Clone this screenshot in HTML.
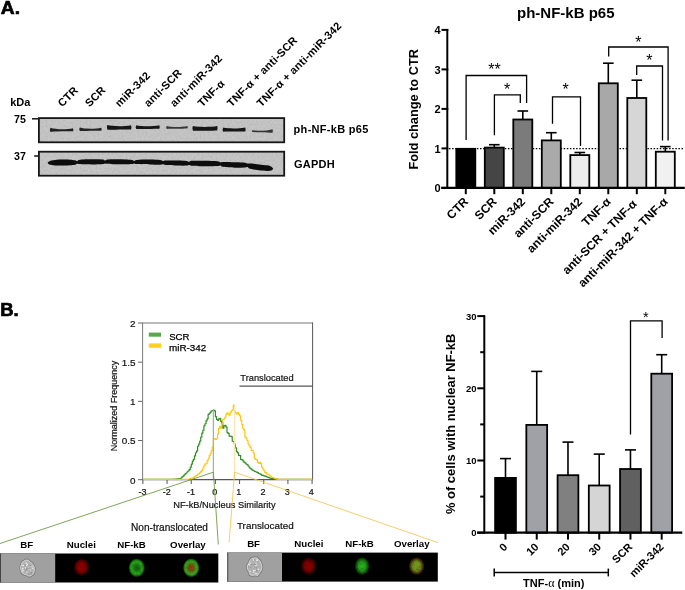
<!DOCTYPE html>
<html><head><meta charset="utf-8"><style>
html,body{margin:0;padding:0;background:#fff;}
svg{display:block;font-family:"Liberation Sans", sans-serif;will-change:transform;}
</style></head><body>
<svg width="685" height="590" viewBox="0 0 685 590">
<defs>
<filter id="bl" x="-20%" y="-50%" width="140%" height="200%"><feGaussianBlur stdDeviation="0.55"/></filter>
<filter id="cellf" x="-30%" y="-30%" width="160%" height="160%"><feGaussianBlur stdDeviation="0.45"/></filter>
<filter id="fl" x="-30%" y="-30%" width="160%" height="160%"><feGaussianBlur stdDeviation="0.6"/></filter>
<filter id="grain" x="0" y="0" width="100%" height="100%"><feTurbulence type="fractalNoise" baseFrequency="0.5" numOctaves="1" seed="4" result="n"/><feColorMatrix in="n" type="matrix" values="0 0 0 0 0  0 0 0 0 0  0 0 0 0 0  0.14 0 0 0 -0.045"/></filter>

<radialGradient id="gred" cx="0.47" cy="0.45"><stop offset="0" stop-color="#960000"/><stop offset="0.45" stop-color="#850000"/><stop offset="0.75" stop-color="#4a0000"/><stop offset="1" stop-color="#000"/></radialGradient>
<radialGradient id="gred2"><stop offset="0" stop-color="#8c0000"/><stop offset="0.5" stop-color="#7a0000"/><stop offset="0.78" stop-color="#3a0000"/><stop offset="1" stop-color="#000"/></radialGradient>
<radialGradient id="gring"><stop offset="0" stop-color="#125a0a"/><stop offset="0.35" stop-color="#187a10"/><stop offset="0.62" stop-color="#2ca81c"/><stop offset="0.8" stop-color="#1a7a0e"/><stop offset="1" stop-color="#000"/></radialGradient>
<radialGradient id="govl"><stop offset="0" stop-color="#8a400c"/><stop offset="0.3" stop-color="#7a4a0e"/><stop offset="0.55" stop-color="#4a8a18"/><stop offset="0.72" stop-color="#34a81e"/><stop offset="0.86" stop-color="#1a6a0e"/><stop offset="1" stop-color="#000"/></radialGradient>
<radialGradient id="ggreen"><stop offset="0" stop-color="#2cb41c"/><stop offset="0.5" stop-color="#22961a"/><stop offset="0.8" stop-color="#0e4a08"/><stop offset="1" stop-color="#000"/></radialGradient>
<radialGradient id="govl2"><stop offset="0" stop-color="#7aa020"/><stop offset="0.5" stop-color="#6a8a1a"/><stop offset="0.78" stop-color="#4a300a"/><stop offset="1" stop-color="#000"/></radialGradient>
</defs>
<text x="0.80" y="14.10" font-size="19.2" font-weight="bold" text-anchor="start" fill="#000" stroke="#000" stroke-width="0.7">A.</text>
<text x="0.20" y="315.90" font-size="18.4" font-weight="bold" text-anchor="start" fill="#000" stroke="#000" stroke-width="0.7">B.</text>
<text x="10.20" y="106.00" font-size="11" font-weight="bold" text-anchor="start" fill="#000">kDa</text>
<text x="14.00" y="122.80" font-size="10.6" font-weight="bold" text-anchor="start" fill="#000">75</text>
<text x="14.00" y="160.20" font-size="10.6" font-weight="bold" text-anchor="start" fill="#000">37</text>
<line x1="32.00" y1="118.80" x2="38.50" y2="118.80" stroke="#111" stroke-width="1.5"/>
<line x1="34.20" y1="156.00" x2="38.50" y2="156.00" stroke="#111" stroke-width="1.5"/>
<rect x="38.90" y="118.10" width="245.30" height="24.20" fill="#c7c7c7" stroke="#161616" stroke-width="1.8"/>
<rect x="38.90" y="151.70" width="245.30" height="24.00" fill="#c7c7c7" stroke="#161616" stroke-width="1.8"/>
<rect x="39.80" y="119.00" width="243.50" height="22.40" fill="#000" stroke="none" stroke-width="0" filter="url(#grain)"/>
<rect x="39.80" y="152.60" width="243.50" height="22.20" fill="#000" stroke="none" stroke-width="0" filter="url(#grain)"/>
<g filter="url(#bl)">
<path d="M50.5,127.78 C55.5,129.70 67.0,129.70 73.0,128.14 Q73.9,130.00 73.0,131.26 C67.0,131.20 55.5,131.20 50.5,131.92 Q49.2,130.00 50.5,127.78 Z" fill="#121212" opacity="0.9"/>
<path d="M79.8,127.62 C84.8,129.18 95.3,129.18 101.3,127.75 Q102.2,129.50 101.3,130.66 C95.3,130.72 84.8,130.72 79.8,131.07 Q78.5,129.50 79.8,127.62 Z" fill="#121212" opacity="0.88"/>
<path d="M107.4,125.09 C112.4,126.56 125.0,126.56 131.0,125.16 Q131.9,127.60 131.0,129.44 C125.0,129.54 112.4,129.54 107.4,129.81 Q106.1,127.60 107.4,125.09 Z" fill="#121212" opacity="1"/>
<path d="M136.3,125.26 C141.3,126.56 153.3,126.56 159.3,125.23 Q160.2,127.30 159.3,128.77 C153.3,128.94 141.3,128.94 136.3,129.04 Q135.0,127.30 136.3,125.26 Z" fill="#121212" opacity="1"/>
<path d="M166.8,126.00 C171.8,127.25 181.4,127.25 187.4,126.00 Q188.3,127.60 187.4,128.60 C181.4,128.85 171.8,128.85 166.8,128.90 Q165.5,127.60 166.8,126.00 Z" fill="#121212" opacity="0.78"/>
<path d="M192.9,126.10 C197.9,127.30 211.2,127.30 217.2,126.10 Q218.1,128.60 217.2,130.50 C211.2,130.80 197.9,130.80 192.9,130.79 Q191.6,128.60 192.9,126.10 Z" fill="#121212" opacity="1"/>
<path d="M223.3,127.62 C228.3,128.89 239.2,128.89 245.2,127.44 Q246.1,129.80 245.2,131.56 C239.2,131.61 228.3,131.61 223.3,131.68 Q222.0,129.80 223.3,127.62 Z" fill="#121212" opacity="1"/>
<path d="M252.5,130.30 C257.5,131.00 266.4,131.00 272.4,129.20 Q273.3,131.30 272.4,132.80 C266.4,132.50 257.5,132.50 252.5,132.00 Q251.2,131.30 252.5,130.30 Z" fill="#121212" opacity="0.8"/>
<path d="M47.50,162.80 C47.83,162.53 48.25,161.67 49.50,161.20 C50.75,160.73 52.75,160.27 55.00,160.00 C57.25,159.73 60.50,159.65 63.00,159.60 C65.50,159.55 68.00,159.58 70.00,159.70 C72.00,159.82 73.83,160.05 75.00,160.30 C76.17,160.55 76.33,161.25 77.00,161.20 C77.67,161.15 77.50,160.33 79.00,160.00 C80.50,159.67 83.33,159.33 86.00,159.20 C88.67,159.07 92.17,159.15 95.00,159.20 C97.83,159.25 101.33,159.27 103.00,159.50 C104.67,159.73 104.25,160.60 105.00,160.60 C105.75,160.60 105.67,159.73 107.50,159.50 C109.33,159.27 113.08,159.22 116.00,159.20 C118.92,159.18 122.33,159.28 125.00,159.40 C127.67,159.52 130.45,159.65 132.00,159.90 C133.55,160.15 133.47,160.90 134.30,160.90 C135.13,160.90 134.38,160.12 137.00,159.90 C139.62,159.68 146.17,159.57 150.00,159.60 C153.83,159.63 157.83,159.85 160.00,160.10 C162.17,160.35 162.00,161.02 163.00,161.10 C164.00,161.18 163.50,160.68 166.00,160.60 C168.50,160.52 174.58,160.53 178.00,160.60 C181.42,160.67 184.67,160.78 186.50,161.00 C188.33,161.22 188.08,161.93 189.00,161.90 C189.92,161.87 189.33,161.00 192.00,160.80 C194.67,160.60 200.75,160.63 205.00,160.70 C209.25,160.77 214.92,160.92 217.50,161.20 C220.08,161.48 219.58,162.28 220.50,162.40 C221.42,162.52 220.58,161.93 223.00,161.90 C225.42,161.87 231.33,162.07 235.00,162.20 C238.67,162.33 242.92,162.47 245.00,162.70 C247.08,162.93 246.67,163.45 247.50,163.60 C248.33,163.75 248.08,163.47 250.00,163.60 C251.92,163.73 256.17,164.12 259.00,164.40 C261.83,164.68 265.00,164.97 267.00,165.30 C269.00,165.63 270.00,165.92 271.00,166.40 C272.00,166.88 272.67,167.90 273.00,168.20 L273.00,169.20 C272.67,169.40 272.00,170.12 271.00,170.40 C270.00,170.68 269.00,170.92 267.00,170.90 C265.00,170.88 261.83,170.65 259.00,170.30 C256.17,169.95 251.92,169.33 250.00,168.80 C248.08,168.27 248.33,167.32 247.50,167.10 C246.67,166.88 247.08,167.40 245.00,167.50 C242.92,167.60 238.67,167.82 235.00,167.70 C231.33,167.58 225.42,167.15 223.00,166.80 C220.58,166.45 221.42,165.72 220.50,165.60 C219.58,165.48 220.08,165.98 217.50,166.10 C214.92,166.22 209.25,166.35 205.00,166.30 C200.75,166.25 194.67,166.02 192.00,165.80 C189.33,165.58 189.92,165.03 189.00,165.00 C188.08,164.97 188.33,165.50 186.50,165.60 C184.67,165.70 181.42,165.68 178.00,165.60 C174.58,165.52 168.50,165.32 166.00,165.10 C163.50,164.88 164.00,164.37 163.00,164.30 C162.00,164.23 162.17,164.67 160.00,164.70 C157.83,164.73 153.83,164.60 150.00,164.50 C146.17,164.40 139.62,164.28 137.00,164.10 C134.38,163.92 135.13,163.42 134.30,163.40 C133.47,163.38 133.55,163.85 132.00,164.00 C130.45,164.15 127.67,164.25 125.00,164.30 C122.33,164.35 118.92,164.38 116.00,164.30 C113.08,164.22 109.33,163.95 107.50,163.80 C105.67,163.65 105.75,163.37 105.00,163.40 C104.25,163.43 104.67,163.83 103.00,164.00 C101.33,164.17 97.83,164.35 95.00,164.40 C92.17,164.45 88.67,164.37 86.00,164.30 C83.33,164.23 80.50,164.08 79.00,164.00 C77.50,163.92 77.67,163.68 77.00,163.80 C76.33,163.92 76.17,164.45 75.00,164.70 C73.83,164.95 72.00,165.17 70.00,165.30 C68.00,165.43 65.50,165.48 63.00,165.50 C60.50,165.52 57.25,165.55 55.00,165.40 C52.75,165.25 50.75,165.03 49.50,164.60 C48.25,164.17 47.83,163.10 47.50,162.80 Z" fill="#0a0a0a"/>
</g>
<text x="62.30" y="107.50" font-size="11.0" font-weight="bold" text-anchor="start" fill="#000" transform="rotate(-45 62.30 107.50)" letter-spacing="0.2">CTR</text>
<text x="89.40" y="107.50" font-size="11.0" font-weight="bold" text-anchor="start" fill="#000" transform="rotate(-45 89.40 107.50)" letter-spacing="0.2">SCR</text>
<text x="119.60" y="107.50" font-size="11.0" font-weight="bold" text-anchor="start" fill="#000" transform="rotate(-45 119.60 107.50)" letter-spacing="0.2">miR-342</text>
<text x="148.60" y="107.50" font-size="11.0" font-weight="bold" text-anchor="start" fill="#000" transform="rotate(-45 148.60 107.50)" letter-spacing="0.2">anti-SCR</text>
<text x="174.60" y="107.50" font-size="11.0" font-weight="bold" text-anchor="start" fill="#000" transform="rotate(-45 174.60 107.50)" letter-spacing="0.2">anti-miR-342</text>
<text x="202.20" y="107.50" font-size="11.0" font-weight="bold" text-anchor="start" fill="#000" transform="rotate(-45 202.20 107.50)" letter-spacing="0.2">TNF-α</text>
<text x="231.60" y="107.50" font-size="11.0" font-weight="bold" text-anchor="start" fill="#000" transform="rotate(-45 231.60 107.50)" letter-spacing="0.2">TNF-α + anti-SCR</text>
<text x="261.30" y="107.50" font-size="11.0" font-weight="bold" text-anchor="start" fill="#000" transform="rotate(-45 261.30 107.50)" letter-spacing="0.2">TNF-α + anti-miR-342</text>
<text x="293.60" y="132.70" font-size="11" font-weight="bold" text-anchor="start" fill="#000" letter-spacing="0.3">ph-NF-kB p65</text>
<text x="294.00" y="168.30" font-size="11" font-weight="bold" text-anchor="start" fill="#000" letter-spacing="0.25">GAPDH</text>
<text x="565.80" y="18.30" font-size="15" font-weight="bold" text-anchor="middle" fill="#000">ph-NF-kB p65</text>
<text x="417.60" y="109.30" font-size="12.75" font-weight="bold" text-anchor="middle" fill="#000" transform="rotate(-90 417.60 109.30)">Fold change to CTR</text>
<line x1="441.50" y1="187.90" x2="448.30" y2="187.90" stroke="#000" stroke-width="2"/>
<text x="440.60" y="192.00" font-size="11" font-weight="bold" text-anchor="end" fill="#000">0</text>
<line x1="441.50" y1="148.40" x2="448.30" y2="148.40" stroke="#000" stroke-width="2"/>
<text x="440.60" y="152.50" font-size="11" font-weight="bold" text-anchor="end" fill="#000">1</text>
<line x1="441.50" y1="108.90" x2="448.30" y2="108.90" stroke="#000" stroke-width="2"/>
<text x="440.60" y="113.00" font-size="11" font-weight="bold" text-anchor="end" fill="#000">2</text>
<line x1="441.50" y1="69.40" x2="448.30" y2="69.40" stroke="#000" stroke-width="2"/>
<text x="440.60" y="73.50" font-size="11" font-weight="bold" text-anchor="end" fill="#000">3</text>
<line x1="441.50" y1="29.90" x2="448.30" y2="29.90" stroke="#000" stroke-width="2"/>
<text x="440.60" y="34.00" font-size="11" font-weight="bold" text-anchor="end" fill="#000">4</text>
<line x1="447.30" y1="29.00" x2="447.30" y2="188.90" stroke="#000" stroke-width="2"/>
<line x1="449.00" y1="148.60" x2="684.50" y2="148.60" stroke="#000" stroke-width="1.3" stroke-dasharray="1.5 1.6"/>
<rect x="456.30" y="148.80" width="19.00" height="39.10" fill="#000000" stroke="#000" stroke-width="1.8"/>
<line x1="494.30" y1="144.70" x2="494.30" y2="147.70" stroke="#000" stroke-width="1.6"/>
<line x1="489.00" y1="144.70" x2="499.60" y2="144.70" stroke="#000" stroke-width="1.6"/>
<rect x="484.80" y="147.60" width="19.00" height="40.30" fill="#454545" stroke="#000" stroke-width="1.8"/>
<line x1="522.80" y1="111.00" x2="522.80" y2="119.60" stroke="#000" stroke-width="1.6"/>
<line x1="517.50" y1="111.00" x2="528.10" y2="111.00" stroke="#000" stroke-width="1.6"/>
<rect x="513.30" y="119.50" width="19.00" height="68.40" fill="#7b7b7b" stroke="#000" stroke-width="1.8"/>
<line x1="551.30" y1="132.70" x2="551.30" y2="140.50" stroke="#000" stroke-width="1.6"/>
<line x1="546.00" y1="132.70" x2="556.60" y2="132.70" stroke="#000" stroke-width="1.6"/>
<rect x="541.80" y="140.40" width="19.00" height="47.50" fill="#aaaaaa" stroke="#000" stroke-width="1.8"/>
<line x1="579.80" y1="152.50" x2="579.80" y2="155.20" stroke="#000" stroke-width="1.6"/>
<line x1="574.50" y1="152.50" x2="585.10" y2="152.50" stroke="#000" stroke-width="1.6"/>
<rect x="570.30" y="155.10" width="19.00" height="32.80" fill="#ececec" stroke="#000" stroke-width="1.8"/>
<line x1="608.30" y1="63.20" x2="608.30" y2="83.40" stroke="#000" stroke-width="1.6"/>
<line x1="603.00" y1="63.20" x2="613.60" y2="63.20" stroke="#000" stroke-width="1.6"/>
<rect x="598.80" y="83.30" width="19.00" height="104.60" fill="#a8a8a8" stroke="#000" stroke-width="1.8"/>
<line x1="636.80" y1="80.20" x2="636.80" y2="98.10" stroke="#000" stroke-width="1.6"/>
<line x1="631.50" y1="80.20" x2="642.10" y2="80.20" stroke="#000" stroke-width="1.6"/>
<rect x="627.30" y="98.00" width="19.00" height="89.90" fill="#d6d6d6" stroke="#000" stroke-width="1.8"/>
<line x1="665.30" y1="146.60" x2="665.30" y2="151.80" stroke="#000" stroke-width="1.6"/>
<line x1="660.00" y1="146.60" x2="670.60" y2="146.60" stroke="#000" stroke-width="1.6"/>
<rect x="655.80" y="151.70" width="19.00" height="36.20" fill="#f1f1f1" stroke="#000" stroke-width="1.8"/>
<line x1="441.20" y1="187.90" x2="684.80" y2="187.90" stroke="#000" stroke-width="2.2"/>
<line x1="465.80" y1="187.90" x2="465.80" y2="194.20" stroke="#000" stroke-width="2"/>
<line x1="494.30" y1="187.90" x2="494.30" y2="194.20" stroke="#000" stroke-width="2"/>
<line x1="522.80" y1="187.90" x2="522.80" y2="194.20" stroke="#000" stroke-width="2"/>
<line x1="551.30" y1="187.90" x2="551.30" y2="194.20" stroke="#000" stroke-width="2"/>
<line x1="579.80" y1="187.90" x2="579.80" y2="194.20" stroke="#000" stroke-width="2"/>
<line x1="608.30" y1="187.90" x2="608.30" y2="194.20" stroke="#000" stroke-width="2"/>
<line x1="636.80" y1="187.90" x2="636.80" y2="194.20" stroke="#000" stroke-width="2"/>
<line x1="665.30" y1="187.90" x2="665.30" y2="194.20" stroke="#000" stroke-width="2"/>
<text x="469.00" y="202.40" font-size="12.05" font-weight="bold" text-anchor="end" fill="#000" transform="rotate(-45 469.00 202.40)">CTR</text>
<text x="497.50" y="202.40" font-size="12.05" font-weight="bold" text-anchor="end" fill="#000" transform="rotate(-45 497.50 202.40)">SCR</text>
<text x="526.00" y="202.40" font-size="12.05" font-weight="bold" text-anchor="end" fill="#000" transform="rotate(-45 526.00 202.40)">miR-342</text>
<text x="554.50" y="202.40" font-size="12.05" font-weight="bold" text-anchor="end" fill="#000" transform="rotate(-45 554.50 202.40)">anti-SCR</text>
<text x="583.00" y="202.40" font-size="12.05" font-weight="bold" text-anchor="end" fill="#000" transform="rotate(-45 583.00 202.40)">anti-miR-342</text>
<text x="611.50" y="202.40" font-size="12.05" font-weight="bold" text-anchor="end" fill="#000" transform="rotate(-45 611.50 202.40)">TNF-α</text>
<text x="637.50" y="204.80" font-size="12.05" font-weight="bold" text-anchor="end" fill="#000" transform="rotate(-45 637.50 204.80)">anti-SCR + TNF-α</text>
<text x="668.50" y="202.40" font-size="12.05" font-weight="bold" text-anchor="end" fill="#000" transform="rotate(-45 668.50 202.40)">anti-miR-342 + TNF-α</text>
<polyline points="466.10,140.00 466.10,75.50 526.60,75.50 526.60,103.00" fill="none" stroke="#000" stroke-width="1.3"/>
<polyline points="494.40,135.30 494.40,94.80 520.30,94.80 520.30,103.00" fill="none" stroke="#000" stroke-width="1.3"/>
<polyline points="552.50,123.70 552.50,96.80 580.50,96.80 580.50,146.10" fill="none" stroke="#000" stroke-width="1.3"/>
<polyline points="608.70,56.40 608.70,47.00 668.10,47.00 668.10,140.60" fill="none" stroke="#000" stroke-width="1.3"/>
<polyline points="636.70,75.10 636.70,66.00 662.50,66.00 662.50,140.60" fill="none" stroke="#000" stroke-width="1.3"/>
<text x="494.60" y="74.60" font-size="16" text-anchor="middle" fill="#000">**</text>
<text x="507.20" y="95.00" font-size="16" text-anchor="middle" fill="#000">*</text>
<text x="565.60" y="95.00" font-size="16" text-anchor="middle" fill="#000">*</text>
<text x="638.30" y="48.20" font-size="16" text-anchor="middle" fill="#000">*</text>
<text x="649.40" y="66.00" font-size="16" text-anchor="middle" fill="#000">*</text>
<line x1="142.50" y1="323.00" x2="312.90" y2="323.00" stroke="#777" stroke-width="1"/>
<line x1="312.60" y1="322.50" x2="312.60" y2="479.70" stroke="#555" stroke-width="1.0"/>
<line x1="142.60" y1="322.50" x2="142.60" y2="479.70" stroke="#7a7a7a" stroke-width="1.0"/>
<line x1="138.00" y1="479.70" x2="142.50" y2="479.70" stroke="#666" stroke-width="1"/>
<text x="135.60" y="483.50" font-size="9.9" text-anchor="end" fill="#111" stroke="#111" stroke-width="0.2">0</text>
<line x1="138.00" y1="440.52" x2="142.50" y2="440.52" stroke="#666" stroke-width="1"/>
<text x="135.60" y="444.32" font-size="9.9" text-anchor="end" fill="#111" stroke="#111" stroke-width="0.2">0.5</text>
<line x1="138.00" y1="401.35" x2="142.50" y2="401.35" stroke="#666" stroke-width="1"/>
<text x="135.60" y="405.15" font-size="9.9" text-anchor="end" fill="#111" stroke="#111" stroke-width="0.2">1</text>
<line x1="138.00" y1="362.18" x2="142.50" y2="362.18" stroke="#666" stroke-width="1"/>
<text x="135.60" y="365.98" font-size="9.9" text-anchor="end" fill="#111" stroke="#111" stroke-width="0.2">1.5</text>
<line x1="138.00" y1="323.00" x2="142.50" y2="323.00" stroke="#666" stroke-width="1"/>
<text x="135.60" y="326.80" font-size="9.9" text-anchor="end" fill="#111" stroke="#111" stroke-width="0.2">2</text>
<line x1="142.89" y1="479.70" x2="142.89" y2="484.00" stroke="#555" stroke-width="1"/>
<text x="142.59" y="495.40" font-size="9" text-anchor="middle" fill="#111" stroke="#111" stroke-width="0.2">-3</text>
<line x1="167.06" y1="479.70" x2="167.06" y2="484.00" stroke="#555" stroke-width="1"/>
<text x="166.76" y="495.40" font-size="9" text-anchor="middle" fill="#111" stroke="#111" stroke-width="0.2">-2</text>
<line x1="191.23" y1="479.70" x2="191.23" y2="484.00" stroke="#555" stroke-width="1"/>
<text x="190.93" y="495.40" font-size="9" text-anchor="middle" fill="#111" stroke="#111" stroke-width="0.2">-1</text>
<line x1="215.40" y1="479.70" x2="215.40" y2="484.00" stroke="#555" stroke-width="1"/>
<text x="214.70" y="495.40" font-size="9" text-anchor="middle" fill="#111" stroke="#111" stroke-width="0.2">0</text>
<line x1="239.57" y1="479.70" x2="239.57" y2="484.00" stroke="#555" stroke-width="1"/>
<text x="238.87" y="495.40" font-size="9" text-anchor="middle" fill="#111" stroke="#111" stroke-width="0.2">1</text>
<line x1="263.74" y1="479.70" x2="263.74" y2="484.00" stroke="#555" stroke-width="1"/>
<text x="263.04" y="495.40" font-size="9" text-anchor="middle" fill="#111" stroke="#111" stroke-width="0.2">2</text>
<line x1="287.91" y1="479.70" x2="287.91" y2="484.00" stroke="#555" stroke-width="1"/>
<text x="287.21" y="495.40" font-size="9" text-anchor="middle" fill="#111" stroke="#111" stroke-width="0.2">3</text>
<line x1="312.08" y1="479.70" x2="312.08" y2="484.00" stroke="#555" stroke-width="1"/>
<text x="311.38" y="495.40" font-size="9" text-anchor="middle" fill="#111" stroke="#111" stroke-width="0.2">4</text>
<text x="224.40" y="508.00" font-size="9.25" text-anchor="middle" fill="#111" stroke="#111" stroke-width="0.2">NF-kB/Nucleus Similarity</text>
<text x="117.40" y="406.00" font-size="9" text-anchor="middle" fill="#111" transform="rotate(-90 117.40 406.00)" stroke="#111" stroke-width="0.2">Normalized Frequency</text>
<rect x="148.80" y="332.60" width="12.20" height="4.10" fill="#58a84e" stroke="none" stroke-width="0"/>
<rect x="148.80" y="343.40" width="12.20" height="4.40" fill="#ffd11a" stroke="none" stroke-width="0"/>
<text x="169.20" y="340.40" font-size="9.6" text-anchor="start" fill="#000" stroke="#000" stroke-width="0.25">SCR</text>
<text x="169.00" y="350.70" font-size="9.9" text-anchor="start" fill="#000" stroke="#000" stroke-width="0.25">miR-342</text>
<text x="240.30" y="381.00" font-size="9.3" text-anchor="start" fill="#111" stroke="#111" stroke-width="0.2">Translocated</text>
<line x1="239.50" y1="386.20" x2="312.90" y2="386.20" stroke="#555" stroke-width="1.3"/>
<line x1="142.50" y1="479.70" x2="312.90" y2="479.70" stroke="#555" stroke-width="1.3"/>
<polyline points="143.00,479.30 143.00,479.30 144.05,479.30 144.05,479.30 145.10,479.30 145.10,479.30 146.15,479.30 146.15,479.30 147.20,479.30 147.20,479.30 148.25,479.30 148.25,479.30 149.30,479.30 149.30,479.30 150.35,479.30 150.35,479.30 151.40,479.30 151.40,479.30 152.45,479.30 152.45,479.30 153.50,479.30 153.50,479.30 154.55,479.30 154.55,479.30 155.60,479.30 155.60,479.30 156.65,479.30 156.65,479.30 157.70,479.30 157.70,479.30 158.75,479.30 158.75,479.30 159.80,479.30 159.80,479.30 160.85,479.30 160.85,479.30 161.90,479.30 161.90,479.30 162.95,479.30 162.95,479.30 164.00,479.30 164.00,479.30 165.05,479.30 165.05,479.30 166.10,479.30 166.10,479.30 167.15,479.30 167.15,479.30 168.20,479.30 168.20,479.30 169.25,479.30 169.25,479.30 170.30,479.30 170.30,479.30 171.35,479.30 171.35,479.30 172.40,479.30 172.40,479.30 173.45,479.30 173.45,479.20 174.50,479.20 174.50,479.08 175.55,479.08 175.55,478.98 176.60,478.98 176.60,478.92 177.65,478.92 177.65,478.75 178.70,478.75 178.70,478.63 179.75,478.63 179.75,478.54 180.80,478.54 180.80,478.06 181.85,478.06 181.85,476.96 182.90,476.96 182.90,476.19 183.95,476.19 183.95,474.85 185.00,474.85 185.00,473.87 186.05,473.87 186.05,473.01 187.10,473.01 187.10,471.77 188.15,471.77 188.15,470.76 189.20,470.76 189.20,469.66 190.25,469.66 190.25,467.09 191.30,467.09 191.30,464.13 192.35,464.13 192.35,461.12 193.40,461.12 193.40,459.35 194.45,459.35 194.45,455.95 195.50,455.95 195.50,452.75 196.55,452.75 196.55,450.96 197.60,450.96 197.60,446.24 198.65,446.24 198.65,444.00 199.70,444.00 199.70,441.12 200.75,441.12 200.75,437.22 201.80,437.22 201.80,433.22 202.85,433.22 202.85,430.25 203.90,430.25 203.90,425.83 204.95,425.83 204.95,423.75 206.00,423.75 206.00,420.82 207.05,420.82 207.05,418.80 208.10,418.80 208.10,414.44 209.15,414.44 209.15,413.26 210.20,413.26 210.20,412.05 211.25,412.05 211.25,410.82 212.30,410.82 212.30,410.50 213.35,410.50 213.35,410.17 214.40,410.17 214.40,410.80 215.45,410.80 215.45,416.68 216.50,416.68 216.50,419.32 217.55,419.32 217.55,420.32 218.60,420.32 218.60,418.96 219.65,418.96 219.65,418.30 220.70,418.30 220.70,421.17 221.75,421.17 221.75,423.21 222.80,423.21 222.80,428.19 223.85,428.19 223.85,425.79 224.90,425.79 224.90,425.30 225.95,425.30 225.95,427.07 227.00,427.07 227.00,432.58 228.05,432.58 228.05,433.42 229.10,433.42 229.10,436.08 230.15,436.08 230.15,436.20 231.20,436.20 231.20,436.68 232.25,436.68 232.25,441.24 233.30,441.24 233.30,441.57 234.35,441.57 234.35,444.00 235.40,444.00 235.40,447.94 236.45,447.94 236.45,451.63 237.50,451.63 237.50,452.81 238.55,452.81 238.55,455.41 239.60,455.41 239.60,455.61 240.65,455.61 240.65,459.51 241.70,459.51 241.70,459.68 242.75,459.68 242.75,460.85 243.80,460.85 243.80,462.15 244.85,462.15 244.85,462.96 245.90,462.96 245.90,464.02 246.95,464.02 246.95,464.55 248.00,464.55 248.00,465.98 249.05,465.98 249.05,467.25 250.10,467.25 250.10,468.50 251.15,468.50 251.15,469.14 252.20,469.14 252.20,470.19 253.25,470.19 253.25,470.77 254.30,470.77 254.30,471.34 255.35,471.34 255.35,471.76 256.40,471.76 256.40,472.16 257.45,472.16 257.45,472.63 258.50,472.63 258.50,473.49 259.55,473.49 259.55,473.84 260.60,473.84 260.60,474.32 261.65,474.32 261.65,475.37 262.70,475.37 262.70,475.47 263.75,475.47 263.75,475.86 264.80,475.86 264.80,476.18 265.85,476.18 265.85,476.46 266.90,476.46 266.90,477.07 267.95,477.07 267.95,477.37 269.00,477.37 269.00,477.78 270.05,477.78 270.05,478.13 271.10,478.13 271.10,478.31 272.15,478.31 272.15,478.45 273.20,478.45 273.20,478.62 274.25,478.62 274.25,478.86 275.30,478.86 275.30,478.99 276.35,478.99 276.35,479.14 277.40,479.14 277.40,479.24 278.45,479.24 278.45,479.27 279.50,479.27 279.50,479.30 280.55,479.30 280.55,479.30 281.60,479.30 281.60,479.30 282.65,479.30 282.65,479.30 283.70,479.30 283.70,479.30 284.75,479.30 284.75,479.30 285.80,479.30 285.80,479.30 286.85,479.30 286.85,479.30 287.90,479.30 287.90,479.30 288.95,479.30 288.95,479.30 290.00,479.30 290.00,479.30 291.05,479.30 291.05,479.30 292.10,479.30 292.10,479.30 293.15,479.30 293.15,479.30 294.20,479.30 294.20,479.30 295.25,479.30 295.25,479.30 296.30,479.30 296.30,479.30 297.35,479.30 297.35,479.30 298.40,479.30 298.40,479.30 299.45,479.30 299.45,479.30 300.50,479.30 300.50,479.30 301.55,479.30 301.55,479.30 302.60,479.30 302.60,479.30 303.65,479.30 303.65,479.30 304.70,479.30 304.70,479.30 305.75,479.30 305.75,479.30 306.80,479.30 306.80,479.30 307.85,479.30 307.85,479.30 308.90,479.30 308.90,479.30 309.95,479.30 309.95,479.30 311.00,479.30 311.00,479.30 312.00,479.30" fill="none" stroke="#2f8f22" stroke-width="1.2" stroke-linejoin="round"/>
<polyline points="143.00,479.30 143.00,479.30 144.05,479.30 144.05,479.30 145.10,479.30 145.10,479.30 146.15,479.30 146.15,479.30 147.20,479.30 147.20,479.30 148.25,479.30 148.25,479.30 149.30,479.30 149.30,479.30 150.35,479.30 150.35,479.30 151.40,479.30 151.40,479.30 152.45,479.30 152.45,479.30 153.50,479.30 153.50,479.30 154.55,479.30 154.55,479.30 155.60,479.30 155.60,479.30 156.65,479.30 156.65,479.30 157.70,479.30 157.70,479.30 158.75,479.30 158.75,479.30 159.80,479.30 159.80,479.30 160.85,479.30 160.85,479.30 161.90,479.30 161.90,479.30 162.95,479.30 162.95,479.30 164.00,479.30 164.00,479.30 165.05,479.30 165.05,479.30 166.10,479.30 166.10,479.30 167.15,479.30 167.15,479.30 168.20,479.30 168.20,479.30 169.25,479.30 169.25,479.30 170.30,479.30 170.30,479.30 171.35,479.30 171.35,479.30 172.40,479.30 172.40,479.30 173.45,479.30 173.45,479.30 174.50,479.30 174.50,479.30 175.55,479.30 175.55,479.30 176.60,479.30 176.60,479.30 177.65,479.30 177.65,479.30 178.70,479.30 178.70,479.30 179.75,479.30 179.75,479.30 180.80,479.30 180.80,479.30 181.85,479.30 181.85,479.30 182.90,479.30 182.90,479.30 183.95,479.30 183.95,479.30 185.00,479.30 185.00,479.30 186.05,479.30 186.05,479.30 187.10,479.30 187.10,479.30 188.15,479.30 188.15,479.13 189.20,479.13 189.20,478.88 190.25,478.88 190.25,478.67 191.30,478.67 191.30,478.18 192.35,478.18 192.35,478.01 193.40,478.01 193.40,477.33 194.45,477.33 194.45,476.48 195.50,476.48 195.50,475.95 196.55,475.95 196.55,475.09 197.60,475.09 197.60,473.99 198.65,473.99 198.65,473.86 199.70,473.86 199.70,472.55 200.75,472.55 200.75,471.39 201.80,471.39 201.80,470.36 202.85,470.36 202.85,468.02 203.90,468.02 203.90,465.76 204.95,465.76 204.95,463.75 206.00,463.75 206.00,463.80 207.05,463.80 207.05,460.54 208.10,460.54 208.10,458.60 209.15,458.60 209.15,455.71 210.20,455.71 210.20,453.39 211.25,453.39 211.25,450.83 212.30,450.83 212.30,447.16 213.35,447.16 213.35,439.05 214.40,439.05 214.40,438.60 215.45,438.60 215.45,439.35 216.50,439.35 216.50,438.75 217.55,438.75 217.55,433.98 218.60,433.98 218.60,428.40 219.65,428.40 219.65,426.47 220.70,426.47 220.70,428.19 221.75,428.19 221.75,423.96 222.80,423.96 222.80,419.41 223.85,419.41 223.85,419.08 224.90,419.08 224.90,417.07 225.95,417.07 225.95,413.90 227.00,413.90 227.00,412.90 228.05,412.90 228.05,414.12 229.10,414.12 229.10,415.03 230.15,415.03 230.15,412.43 231.20,412.43 231.20,410.97 232.25,410.97 232.25,409.73 233.30,409.73 233.30,405.06 234.35,405.06 234.35,410.94 235.40,410.94 235.40,412.91 236.45,412.91 236.45,414.00 237.50,414.00 237.50,412.57 238.55,412.57 238.55,414.43 239.60,414.43 239.60,415.93 240.65,415.93 240.65,420.44 241.70,420.44 241.70,424.57 242.75,424.57 242.75,428.66 243.80,428.66 243.80,430.18 244.85,430.18 244.85,436.88 245.90,436.88 245.90,438.18 246.95,438.18 246.95,440.50 248.00,440.50 248.00,443.84 249.05,443.84 249.05,446.01 250.10,446.01 250.10,447.15 251.15,447.15 251.15,450.39 252.20,450.39 252.20,450.28 253.25,450.28 253.25,453.09 254.30,453.09 254.30,458.47 255.35,458.47 255.35,459.38 256.40,459.38 256.40,459.54 257.45,459.54 257.45,462.19 258.50,462.19 258.50,463.32 259.55,463.32 259.55,462.45 260.60,462.45 260.60,463.69 261.65,463.69 261.65,467.26 262.70,467.26 262.70,468.99 263.75,468.99 263.75,470.65 264.80,470.65 264.80,472.64 265.85,472.64 265.85,472.60 266.90,472.60 266.90,474.11 267.95,474.11 267.95,474.24 269.00,474.24 269.00,475.17 270.05,475.17 270.05,476.22 271.10,476.22 271.10,477.05 272.15,477.05 272.15,477.51 273.20,477.51 273.20,477.87 274.25,477.87 274.25,478.27 275.30,478.27 275.30,478.69 276.35,478.69 276.35,479.13 277.40,479.13 277.40,479.23 278.45,479.23 278.45,479.28 279.50,479.28 279.50,479.30 280.55,479.30 280.55,479.30 281.60,479.30 281.60,479.30 282.65,479.30 282.65,479.30 283.70,479.30 283.70,479.30 284.75,479.30 284.75,479.30 285.80,479.30 285.80,479.30 286.85,479.30 286.85,479.30 287.90,479.30 287.90,479.30 288.95,479.30 288.95,479.30 290.00,479.30 290.00,479.30 291.05,479.30 291.05,479.30 292.10,479.30 292.10,479.30 293.15,479.30 293.15,479.30 294.20,479.30 294.20,479.30 295.25,479.30 295.25,479.30 296.30,479.30 296.30,479.30 297.35,479.30 297.35,479.30 298.40,479.30 298.40,479.30 299.45,479.30 299.45,479.30 300.50,479.30 300.50,479.30 301.55,479.30 301.55,479.30 302.60,479.30 302.60,479.30 303.65,479.30 303.65,479.30 304.70,479.30 304.70,479.30 305.75,479.30 305.75,479.30 306.80,479.30 306.80,479.30 307.85,479.30 307.85,479.30 308.90,479.30 308.90,479.30 309.95,479.30 309.95,479.30 311.00,479.30 311.00,479.30 312.05,479.30 312.05,479.30 312.40,479.30" fill="none" stroke="#fcc814" stroke-width="1.2" stroke-linejoin="round"/>
<line x1="213.40" y1="409.50" x2="213.40" y2="479.00" stroke="#9dba95" stroke-width="1.3"/>
<line x1="234.60" y1="405.50" x2="234.60" y2="479.00" stroke="#fce6b4" stroke-width="1.4"/>
<line x1="213.40" y1="472.20" x2="0.00" y2="543.50" stroke="#6f9a48" stroke-width="0.9"/>
<line x1="213.40" y1="472.20" x2="218.30" y2="544.50" stroke="#6f9a48" stroke-width="0.9"/>
<line x1="234.60" y1="472.20" x2="229.10" y2="542.50" stroke="#f5c85c" stroke-width="0.9"/>
<line x1="234.60" y1="472.20" x2="437.80" y2="542.60" stroke="#f5c85c" stroke-width="0.9"/>
<text x="169.50" y="531.10" font-size="10.1" text-anchor="middle" fill="#111" stroke="#111" stroke-width="0.2">Non-translocated</text>
<text x="265.30" y="528.80" font-size="9.9" text-anchor="middle" fill="#111" stroke="#111" stroke-width="0.2">Translocated</text>
<text x="26.80" y="548.30" font-size="9.7" font-weight="bold" text-anchor="middle" fill="#000">BF</text>
<text x="81.30" y="548.30" font-size="9.7" font-weight="bold" text-anchor="middle" fill="#000">Nuclei</text>
<text x="131.50" y="548.30" font-size="9.7" font-weight="bold" text-anchor="middle" fill="#000">NF-kB</text>
<text x="187.90" y="548.30" font-size="9.7" font-weight="bold" text-anchor="middle" fill="#000">Overlay</text>
<text x="253.60" y="547.20" font-size="9.7" font-weight="bold" text-anchor="middle" fill="#000">BF</text>
<text x="308.90" y="547.20" font-size="9.7" font-weight="bold" text-anchor="middle" fill="#000">Nuclei</text>
<text x="359.50" y="547.20" font-size="9.7" font-weight="bold" text-anchor="middle" fill="#000">NF-kB</text>
<text x="411.80" y="547.20" font-size="9.7" font-weight="bold" text-anchor="middle" fill="#000">Overlay</text>
<rect x="0.00" y="553.50" width="218.30" height="29.00" fill="#000" stroke="none" stroke-width="0"/>
<rect x="0.00" y="553.50" width="55.20" height="29.00" fill="#a0a0a0" stroke="none" stroke-width="0"/>
<line x1="0.50" y1="553.50" x2="0.50" y2="582.50" stroke="#444" stroke-width="1"/>
<rect x="227.30" y="552.60" width="210.50" height="29.00" fill="#000" stroke="none" stroke-width="0"/>
<rect x="227.30" y="552.60" width="54.70" height="29.00" fill="#a0a0a0" stroke="none" stroke-width="0"/>
<line x1="227.80" y1="552.60" x2="227.80" y2="581.60" stroke="#555" stroke-width="1"/>
<g filter="url(#cellf)"><path d="M34.34,565.37 L35.15,568.46 L34.95,571.57 L33.93,574.39 L31.77,576.05 L29.37,577.24 L26.72,575.66 L24.18,575.13 L21.64,573.51 L20.43,570.45 L19.43,567.33 L20.74,564.66 L21.39,561.92 L23.41,560.45 L25.56,559.16 L28.16,559.30 L30.35,561.27 L32.46,562.98 Z" fill="#b0b0b0" stroke="#7e7e7e" stroke-width="1.2"/>
<path d="M34.34,565.37 L35.15,568.46 L34.95,571.57 L33.93,574.39 L31.77,576.05 L29.37,577.24 L26.72,575.66 L24.18,575.13 L21.64,573.51 L20.43,570.45 L19.43,567.33 L20.74,564.66 L21.39,561.92 L23.41,560.45 L25.56,559.16 L28.16,559.30 L30.35,561.27 L32.46,562.98 Z" fill="none" stroke="#e0e0e0" stroke-width="0.9" transform="translate(2.74 56.79) scale(0.9)"/>
<ellipse cx="28.70" cy="574.33" rx="0.61" ry="0.98" fill="#909090"/>
<ellipse cx="30.75" cy="570.30" rx="0.59" ry="1.08" fill="#d8d8d8"/>
<ellipse cx="31.71" cy="566.53" rx="1.11" ry="0.67" fill="#d8d8d8"/>
<ellipse cx="29.95" cy="565.98" rx="0.94" ry="0.61" fill="#c8c8c8"/>
<ellipse cx="28.36" cy="567.25" rx="0.71" ry="0.72" fill="#909090"/>
<ellipse cx="28.11" cy="568.60" rx="0.73" ry="0.99" fill="#e8e8e8"/>
<ellipse cx="23.84" cy="566.85" rx="0.74" ry="0.69" fill="#c8c8c8"/>
<ellipse cx="27.42" cy="564.54" rx="0.63" ry="0.78" fill="#f0f0f0"/>
<ellipse cx="28.59" cy="569.22" rx="1.16" ry="0.71" fill="#e8e8e8"/>
<ellipse cx="25.68" cy="570.91" rx="0.76" ry="0.85" fill="#909090"/>
<ellipse cx="27.66" cy="567.82" rx="0.94" ry="1.07" fill="#d8d8d8"/>
<ellipse cx="28.80" cy="568.67" rx="0.74" ry="0.71" fill="#909090"/>
<ellipse cx="22.90" cy="568.62" rx="0.91" ry="0.97" fill="#e8e8e8"/>
<ellipse cx="26.85" cy="569.78" rx="1.16" ry="0.55" fill="#909090"/>
<ellipse cx="26.86" cy="572.04" rx="0.74" ry="1.05" fill="#d8d8d8"/>
<ellipse cx="25.54" cy="567.91" rx="0.71" ry="0.98" fill="#f0f0f0"/>
<ellipse cx="23.36" cy="565.42" rx="1.20" ry="0.60" fill="#f0f0f0"/>
<ellipse cx="33.29" cy="568.02" rx="1.15" ry="0.52" fill="#9c9c9c"/>
<ellipse cx="26.44" cy="565.62" rx="0.82" ry="0.75" fill="#f0f0f0"/>
<ellipse cx="32.90" cy="568.30" rx="1.06" ry="0.70" fill="#e8e8e8"/>
<ellipse cx="31.17" cy="573.77" rx="1.16" ry="0.88" fill="#9c9c9c"/>
<ellipse cx="27.28" cy="567.15" rx="0.76" ry="0.54" fill="#909090"/>
<ellipse cx="26.89" cy="568.61" rx="1.10" ry="1.09" fill="#9c9c9c"/>
<ellipse cx="25.18" cy="569.79" rx="0.72" ry="0.66" fill="#c8c8c8"/>
<ellipse cx="22.96" cy="570.81" rx="0.76" ry="1.09" fill="#e8e8e8"/>
<ellipse cx="30.34" cy="565.62" rx="1.11" ry="0.61" fill="#909090"/>
<ellipse cx="24.64" cy="569.11" rx="1.11" ry="0.72" fill="#9c9c9c"/>
<ellipse cx="26.49" cy="562.44" rx="0.91" ry="0.52" fill="#c8c8c8"/>
<ellipse cx="27.65" cy="571.84" rx="0.70" ry="0.79" fill="#c8c8c8"/>
<ellipse cx="26.18" cy="563.09" rx="1.17" ry="0.70" fill="#f0f0f0"/>
<ellipse cx="31.32" cy="572.35" rx="0.88" ry="0.65" fill="#909090"/>
<ellipse cx="25.19" cy="565.58" rx="0.95" ry="0.98" fill="#9c9c9c"/>
<ellipse cx="26.66" cy="572.20" rx="1.16" ry="0.75" fill="#c8c8c8"/>
<ellipse cx="28.04" cy="567.05" rx="0.81" ry="0.72" fill="#c8c8c8"/>
</g>
<g filter="url(#cellf)"><path d="M262.72,567.60 L261.79,570.84 L259.89,573.30 L258.09,576.33 L255.09,575.76 L252.32,576.36 L249.45,575.51 L248.40,572.08 L246.69,569.43 L246.45,565.97 L248.05,563.01 L249.27,560.00 L251.40,557.53 L254.27,557.04 L257.17,556.85 L259.29,559.18 L261.20,561.36 L262.07,564.38 Z" fill="#b0b0b0" stroke="#7e7e7e" stroke-width="1.2"/>
<path d="M262.72,567.60 L261.79,570.84 L259.89,573.30 L258.09,576.33 L255.09,575.76 L252.32,576.36 L249.45,575.51 L248.40,572.08 L246.69,569.43 L246.45,565.97 L248.05,563.01 L249.27,560.00 L251.40,557.53 L254.27,557.04 L257.17,556.85 L259.29,559.18 L261.20,561.36 L262.07,564.38 Z" fill="none" stroke="#e0e0e0" stroke-width="0.9" transform="translate(25.47 56.68) scale(0.9)"/>
<ellipse cx="248.70" cy="565.91" rx="0.54" ry="0.91" fill="#9c9c9c"/>
<ellipse cx="256.81" cy="560.10" rx="0.64" ry="0.63" fill="#f0f0f0"/>
<ellipse cx="256.93" cy="560.13" rx="1.14" ry="0.74" fill="#f0f0f0"/>
<ellipse cx="254.52" cy="567.07" rx="1.12" ry="1.03" fill="#c8c8c8"/>
<ellipse cx="256.93" cy="568.05" rx="0.60" ry="0.64" fill="#909090"/>
<ellipse cx="254.90" cy="560.01" rx="0.50" ry="0.96" fill="#9c9c9c"/>
<ellipse cx="255.85" cy="573.40" rx="0.51" ry="0.55" fill="#f0f0f0"/>
<ellipse cx="254.59" cy="566.75" rx="0.90" ry="0.82" fill="#e8e8e8"/>
<ellipse cx="254.79" cy="567.33" rx="0.95" ry="0.56" fill="#d8d8d8"/>
<ellipse cx="253.78" cy="566.04" rx="1.00" ry="0.52" fill="#9c9c9c"/>
<ellipse cx="253.60" cy="572.14" rx="1.02" ry="0.94" fill="#d8d8d8"/>
<ellipse cx="254.51" cy="566.66" rx="0.78" ry="1.04" fill="#c8c8c8"/>
<ellipse cx="256.09" cy="570.39" rx="0.76" ry="0.90" fill="#c8c8c8"/>
<ellipse cx="250.77" cy="563.06" rx="1.11" ry="0.57" fill="#e8e8e8"/>
<ellipse cx="256.65" cy="565.01" rx="0.78" ry="1.09" fill="#d8d8d8"/>
<ellipse cx="254.60" cy="566.72" rx="0.73" ry="0.76" fill="#9c9c9c"/>
<ellipse cx="255.01" cy="570.31" rx="1.07" ry="0.68" fill="#f0f0f0"/>
<ellipse cx="253.56" cy="570.75" rx="0.52" ry="0.97" fill="#e8e8e8"/>
<ellipse cx="256.22" cy="563.21" rx="1.04" ry="0.84" fill="#c8c8c8"/>
<ellipse cx="258.36" cy="569.27" rx="1.17" ry="0.74" fill="#e8e8e8"/>
<ellipse cx="250.29" cy="571.31" rx="0.60" ry="0.67" fill="#f0f0f0"/>
<ellipse cx="253.34" cy="560.08" rx="0.54" ry="1.09" fill="#e8e8e8"/>
<ellipse cx="256.91" cy="573.75" rx="0.92" ry="0.51" fill="#e8e8e8"/>
<ellipse cx="255.90" cy="567.55" rx="0.71" ry="0.51" fill="#909090"/>
<ellipse cx="255.48" cy="564.69" rx="0.89" ry="0.58" fill="#909090"/>
<ellipse cx="257.58" cy="569.40" rx="0.58" ry="0.75" fill="#c8c8c8"/>
<ellipse cx="256.64" cy="570.52" rx="0.91" ry="0.98" fill="#909090"/>
<ellipse cx="253.96" cy="564.84" rx="1.12" ry="0.80" fill="#9c9c9c"/>
<ellipse cx="254.93" cy="567.05" rx="0.59" ry="0.98" fill="#9c9c9c"/>
<ellipse cx="255.27" cy="565.68" rx="1.10" ry="0.62" fill="#d8d8d8"/>
<ellipse cx="250.81" cy="567.19" rx="0.77" ry="0.60" fill="#9c9c9c"/>
<ellipse cx="248.48" cy="567.03" rx="0.55" ry="0.89" fill="#9c9c9c"/>
<ellipse cx="251.59" cy="564.19" rx="0.88" ry="0.81" fill="#909090"/>
<ellipse cx="249.09" cy="564.55" rx="1.11" ry="0.84" fill="#e8e8e8"/>
</g>
<ellipse cx="82.0" cy="568.0" rx="8.2" ry="9.2" fill="url(#gred)" filter="url(#fl)"/>
<ellipse cx="136.7" cy="567.8" rx="8.4" ry="9.6" fill="url(#gring)" filter="url(#fl)"/>
<ellipse cx="191.2" cy="567.8" rx="8.4" ry="9.6" fill="url(#govl)" filter="url(#fl)"/>
<ellipse cx="308.6" cy="566.1" rx="8.2" ry="9.3" fill="url(#gred2)" filter="url(#fl)"/>
<ellipse cx="362.1" cy="566.1" rx="7.6" ry="9.2" fill="url(#ggreen)" filter="url(#fl)"/>
<ellipse cx="416.6" cy="566.1" rx="8.0" ry="9.2" fill="url(#govl2)" filter="url(#fl)"/>
<rect x="77.35" y="569.65" width="1" height="1" fill="#000" opacity="0.14"/>
<rect x="83.74" y="565.42" width="1" height="1" fill="#000" opacity="0.15"/>
<rect x="79.88" y="565.88" width="1" height="1" fill="#000" opacity="0.12"/>
<rect x="86.92" y="571.64" width="1" height="1" fill="#000" opacity="0.17"/>
<rect x="78.62" y="565.34" width="1" height="1" fill="#000" opacity="0.17"/>
<rect x="80.07" y="566.02" width="1" height="1" fill="#000" opacity="0.20"/>
<rect x="83.13" y="568.55" width="1" height="1" fill="#000" opacity="0.16"/>
<rect x="82.65" y="563.78" width="1" height="1" fill="#000" opacity="0.20"/>
<rect x="76.84" y="567.28" width="1" height="1" fill="#000" opacity="0.08"/>
<rect x="86.53" y="571.09" width="1" height="1" fill="#000" opacity="0.22"/>
<rect x="87.96" y="567.81" width="1" height="1" fill="#000" opacity="0.12"/>
<rect x="82.23" y="562.64" width="1" height="1" fill="#000" opacity="0.09"/>
<rect x="82.42" y="563.28" width="1" height="1" fill="#000" opacity="0.13"/>
<rect x="87.78" y="566.20" width="1" height="1" fill="#000" opacity="0.11"/>
<rect x="83.33" y="567.24" width="1" height="1" fill="#000" opacity="0.22"/>
<rect x="80.60" y="569.22" width="1" height="1" fill="#000" opacity="0.11"/>
<rect x="80.29" y="564.12" width="1" height="1" fill="#000" opacity="0.13"/>
<rect x="87.52" y="566.54" width="1" height="1" fill="#000" opacity="0.10"/>
<rect x="81.82" y="567.24" width="1" height="1" fill="#000" opacity="0.19"/>
<rect x="84.13" y="573.04" width="1" height="1" fill="#000" opacity="0.15"/>
<rect x="87.68" y="567.39" width="1" height="1" fill="#000" opacity="0.17"/>
<rect x="85.14" y="571.25" width="1" height="1" fill="#000" opacity="0.08"/>
<rect x="86.22" y="562.42" width="1" height="1" fill="#000" opacity="0.12"/>
<rect x="84.24" y="565.72" width="1" height="1" fill="#000" opacity="0.22"/>
<rect x="78.04" y="564.59" width="1" height="1" fill="#000" opacity="0.22"/>
<rect x="82.76" y="571.71" width="1" height="1" fill="#000" opacity="0.13"/>
<rect x="81.49" y="569.95" width="1" height="1" fill="#000" opacity="0.11"/>
<rect x="81.47" y="567.29" width="1" height="1" fill="#000" opacity="0.13"/>
<rect x="75.91" y="570.13" width="1" height="1" fill="#000" opacity="0.20"/>
<rect x="84.66" y="571.51" width="1" height="1" fill="#000" opacity="0.10"/>
<rect x="86.93" y="564.31" width="1" height="1" fill="#000" opacity="0.18"/>
<rect x="84.80" y="572.99" width="1" height="1" fill="#000" opacity="0.11"/>
<rect x="87.81" y="565.83" width="1" height="1" fill="#000" opacity="0.09"/>
<rect x="84.05" y="568.73" width="1" height="1" fill="#000" opacity="0.21"/>
<rect x="82.40" y="574.28" width="1" height="1" fill="#000" opacity="0.14"/>
<rect x="85.76" y="565.04" width="1" height="1" fill="#000" opacity="0.10"/>
<rect x="81.68" y="566.07" width="1" height="1" fill="#000" opacity="0.15"/>
<rect x="79.09" y="563.16" width="1" height="1" fill="#000" opacity="0.12"/>
<rect x="84.55" y="566.32" width="1" height="1" fill="#000" opacity="0.09"/>
<rect x="79.25" y="569.98" width="1" height="1" fill="#000" opacity="0.10"/>
<rect x="133.10" y="572.24" width="1" height="1" fill="#000" opacity="0.09"/>
<rect x="139.73" y="571.90" width="1" height="1" fill="#000" opacity="0.17"/>
<rect x="134.77" y="562.10" width="1" height="1" fill="#000" opacity="0.16"/>
<rect x="140.98" y="565.25" width="1" height="1" fill="#000" opacity="0.18"/>
<rect x="137.69" y="567.53" width="1" height="1" fill="#000" opacity="0.09"/>
<rect x="140.26" y="569.63" width="1" height="1" fill="#000" opacity="0.22"/>
<rect x="141.31" y="570.49" width="1" height="1" fill="#000" opacity="0.09"/>
<rect x="142.23" y="565.12" width="1" height="1" fill="#000" opacity="0.19"/>
<rect x="140.27" y="565.38" width="1" height="1" fill="#000" opacity="0.15"/>
<rect x="142.42" y="571.27" width="1" height="1" fill="#000" opacity="0.20"/>
<rect x="131.74" y="565.01" width="1" height="1" fill="#000" opacity="0.13"/>
<rect x="138.58" y="567.97" width="1" height="1" fill="#000" opacity="0.17"/>
<rect x="143.26" y="567.49" width="1" height="1" fill="#000" opacity="0.13"/>
<rect x="142.04" y="565.12" width="1" height="1" fill="#000" opacity="0.14"/>
<rect x="137.77" y="565.83" width="1" height="1" fill="#000" opacity="0.08"/>
<rect x="132.80" y="564.50" width="1" height="1" fill="#000" opacity="0.21"/>
<rect x="141.39" y="572.40" width="1" height="1" fill="#000" opacity="0.21"/>
<rect x="136.67" y="568.65" width="1" height="1" fill="#000" opacity="0.10"/>
<rect x="132.85" y="564.08" width="1" height="1" fill="#000" opacity="0.17"/>
<rect x="130.52" y="570.50" width="1" height="1" fill="#000" opacity="0.14"/>
<rect x="136.68" y="574.17" width="1" height="1" fill="#000" opacity="0.20"/>
<rect x="132.70" y="571.86" width="1" height="1" fill="#000" opacity="0.11"/>
<rect x="139.45" y="571.35" width="1" height="1" fill="#000" opacity="0.18"/>
<rect x="140.20" y="566.50" width="1" height="1" fill="#000" opacity="0.10"/>
<rect x="130.07" y="569.18" width="1" height="1" fill="#000" opacity="0.13"/>
<rect x="131.01" y="566.98" width="1" height="1" fill="#000" opacity="0.20"/>
<rect x="141.38" y="567.19" width="1" height="1" fill="#000" opacity="0.20"/>
<rect x="135.74" y="573.94" width="1" height="1" fill="#000" opacity="0.18"/>
<rect x="133.19" y="565.89" width="1" height="1" fill="#000" opacity="0.08"/>
<rect x="139.80" y="571.87" width="1" height="1" fill="#000" opacity="0.19"/>
<rect x="136.06" y="574.82" width="1" height="1" fill="#000" opacity="0.22"/>
<rect x="138.43" y="569.55" width="1" height="1" fill="#000" opacity="0.17"/>
<rect x="139.12" y="560.47" width="1" height="1" fill="#000" opacity="0.11"/>
<rect x="138.28" y="564.18" width="1" height="1" fill="#000" opacity="0.08"/>
<rect x="130.87" y="568.97" width="1" height="1" fill="#000" opacity="0.11"/>
<rect x="137.62" y="562.02" width="1" height="1" fill="#000" opacity="0.15"/>
<rect x="139.49" y="567.74" width="1" height="1" fill="#000" opacity="0.21"/>
<rect x="142.47" y="571.82" width="1" height="1" fill="#000" opacity="0.13"/>
<rect x="133.74" y="568.89" width="1" height="1" fill="#000" opacity="0.13"/>
<rect x="130.74" y="564.66" width="1" height="1" fill="#000" opacity="0.14"/>
<rect x="189.36" y="564.85" width="1" height="1" fill="#000" opacity="0.20"/>
<rect x="193.21" y="560.46" width="1" height="1" fill="#000" opacity="0.11"/>
<rect x="196.81" y="563.14" width="1" height="1" fill="#000" opacity="0.16"/>
<rect x="192.20" y="563.42" width="1" height="1" fill="#000" opacity="0.20"/>
<rect x="190.03" y="569.67" width="1" height="1" fill="#000" opacity="0.13"/>
<rect x="187.97" y="569.79" width="1" height="1" fill="#000" opacity="0.11"/>
<rect x="194.29" y="563.93" width="1" height="1" fill="#000" opacity="0.10"/>
<rect x="188.04" y="573.91" width="1" height="1" fill="#000" opacity="0.15"/>
<rect x="197.84" y="567.79" width="1" height="1" fill="#000" opacity="0.20"/>
<rect x="188.67" y="560.58" width="1" height="1" fill="#000" opacity="0.16"/>
<rect x="188.92" y="561.34" width="1" height="1" fill="#000" opacity="0.15"/>
<rect x="189.71" y="574.41" width="1" height="1" fill="#000" opacity="0.10"/>
<rect x="184.56" y="567.12" width="1" height="1" fill="#000" opacity="0.12"/>
<rect x="186.48" y="572.79" width="1" height="1" fill="#000" opacity="0.11"/>
<rect x="195.28" y="561.45" width="1" height="1" fill="#000" opacity="0.12"/>
<rect x="186.71" y="567.88" width="1" height="1" fill="#000" opacity="0.15"/>
<rect x="190.28" y="566.98" width="1" height="1" fill="#000" opacity="0.15"/>
<rect x="186.12" y="571.99" width="1" height="1" fill="#000" opacity="0.10"/>
<rect x="193.58" y="569.61" width="1" height="1" fill="#000" opacity="0.14"/>
<rect x="196.70" y="564.38" width="1" height="1" fill="#000" opacity="0.12"/>
<rect x="188.74" y="568.28" width="1" height="1" fill="#000" opacity="0.21"/>
<rect x="197.37" y="564.78" width="1" height="1" fill="#000" opacity="0.12"/>
<rect x="193.18" y="573.67" width="1" height="1" fill="#000" opacity="0.10"/>
<rect x="191.39" y="566.61" width="1" height="1" fill="#000" opacity="0.10"/>
<rect x="194.92" y="568.12" width="1" height="1" fill="#000" opacity="0.13"/>
<rect x="189.55" y="566.03" width="1" height="1" fill="#000" opacity="0.16"/>
<rect x="194.50" y="562.73" width="1" height="1" fill="#000" opacity="0.11"/>
<rect x="186.66" y="566.80" width="1" height="1" fill="#000" opacity="0.17"/>
<rect x="193.70" y="562.21" width="1" height="1" fill="#000" opacity="0.11"/>
<rect x="187.40" y="563.10" width="1" height="1" fill="#000" opacity="0.11"/>
<rect x="186.03" y="566.17" width="1" height="1" fill="#000" opacity="0.11"/>
<rect x="190.83" y="560.61" width="1" height="1" fill="#000" opacity="0.12"/>
<rect x="188.53" y="574.85" width="1" height="1" fill="#000" opacity="0.19"/>
<rect x="191.94" y="570.14" width="1" height="1" fill="#000" opacity="0.10"/>
<rect x="194.91" y="570.42" width="1" height="1" fill="#000" opacity="0.20"/>
<rect x="185.72" y="571.16" width="1" height="1" fill="#000" opacity="0.11"/>
<rect x="186.86" y="562.65" width="1" height="1" fill="#000" opacity="0.11"/>
<rect x="188.45" y="560.84" width="1" height="1" fill="#000" opacity="0.10"/>
<rect x="185.11" y="567.55" width="1" height="1" fill="#000" opacity="0.22"/>
<rect x="194.32" y="561.58" width="1" height="1" fill="#000" opacity="0.09"/>
<rect x="313.29" y="567.40" width="1" height="1" fill="#000" opacity="0.21"/>
<rect x="305.79" y="566.48" width="1" height="1" fill="#000" opacity="0.11"/>
<rect x="312.07" y="559.80" width="1" height="1" fill="#000" opacity="0.09"/>
<rect x="314.47" y="568.88" width="1" height="1" fill="#000" opacity="0.09"/>
<rect x="311.94" y="568.78" width="1" height="1" fill="#000" opacity="0.15"/>
<rect x="304.04" y="568.57" width="1" height="1" fill="#000" opacity="0.17"/>
<rect x="311.41" y="566.95" width="1" height="1" fill="#000" opacity="0.14"/>
<rect x="308.32" y="561.34" width="1" height="1" fill="#000" opacity="0.16"/>
<rect x="313.39" y="569.85" width="1" height="1" fill="#000" opacity="0.21"/>
<rect x="310.34" y="560.13" width="1" height="1" fill="#000" opacity="0.21"/>
<rect x="306.03" y="564.71" width="1" height="1" fill="#000" opacity="0.22"/>
<rect x="309.72" y="562.51" width="1" height="1" fill="#000" opacity="0.18"/>
<rect x="309.63" y="559.44" width="1" height="1" fill="#000" opacity="0.10"/>
<rect x="306.30" y="570.93" width="1" height="1" fill="#000" opacity="0.19"/>
<rect x="309.00" y="561.34" width="1" height="1" fill="#000" opacity="0.11"/>
<rect x="309.65" y="562.16" width="1" height="1" fill="#000" opacity="0.08"/>
<rect x="305.40" y="570.82" width="1" height="1" fill="#000" opacity="0.09"/>
<rect x="307.68" y="573.38" width="1" height="1" fill="#000" opacity="0.13"/>
<rect x="305.97" y="561.33" width="1" height="1" fill="#000" opacity="0.09"/>
<rect x="304.03" y="565.61" width="1" height="1" fill="#000" opacity="0.18"/>
<rect x="309.07" y="558.70" width="1" height="1" fill="#000" opacity="0.10"/>
<rect x="311.06" y="568.39" width="1" height="1" fill="#000" opacity="0.14"/>
<rect x="311.33" y="567.13" width="1" height="1" fill="#000" opacity="0.08"/>
<rect x="308.42" y="570.03" width="1" height="1" fill="#000" opacity="0.16"/>
<rect x="302.22" y="565.74" width="1" height="1" fill="#000" opacity="0.20"/>
<rect x="312.11" y="569.03" width="1" height="1" fill="#000" opacity="0.09"/>
<rect x="303.97" y="562.34" width="1" height="1" fill="#000" opacity="0.13"/>
<rect x="312.34" y="564.35" width="1" height="1" fill="#000" opacity="0.20"/>
<rect x="303.75" y="564.59" width="1" height="1" fill="#000" opacity="0.21"/>
<rect x="304.46" y="568.70" width="1" height="1" fill="#000" opacity="0.12"/>
<rect x="304.16" y="565.11" width="1" height="1" fill="#000" opacity="0.16"/>
<rect x="307.45" y="572.31" width="1" height="1" fill="#000" opacity="0.08"/>
<rect x="309.30" y="560.42" width="1" height="1" fill="#000" opacity="0.10"/>
<rect x="308.72" y="561.42" width="1" height="1" fill="#000" opacity="0.18"/>
<rect x="314.75" y="568.41" width="1" height="1" fill="#000" opacity="0.09"/>
<rect x="312.13" y="563.35" width="1" height="1" fill="#000" opacity="0.12"/>
<rect x="308.65" y="564.50" width="1" height="1" fill="#000" opacity="0.21"/>
<rect x="307.84" y="561.04" width="1" height="1" fill="#000" opacity="0.16"/>
<rect x="312.45" y="570.02" width="1" height="1" fill="#000" opacity="0.10"/>
<rect x="311.10" y="562.67" width="1" height="1" fill="#000" opacity="0.10"/>
<rect x="357.13" y="568.25" width="1" height="1" fill="#000" opacity="0.16"/>
<rect x="358.67" y="561.34" width="1" height="1" fill="#000" opacity="0.19"/>
<rect x="355.73" y="564.66" width="1" height="1" fill="#000" opacity="0.18"/>
<rect x="362.26" y="568.62" width="1" height="1" fill="#000" opacity="0.19"/>
<rect x="359.35" y="562.92" width="1" height="1" fill="#000" opacity="0.17"/>
<rect x="361.25" y="559.91" width="1" height="1" fill="#000" opacity="0.17"/>
<rect x="362.16" y="562.83" width="1" height="1" fill="#000" opacity="0.15"/>
<rect x="360.45" y="563.38" width="1" height="1" fill="#000" opacity="0.09"/>
<rect x="365.24" y="567.56" width="1" height="1" fill="#000" opacity="0.08"/>
<rect x="365.08" y="566.94" width="1" height="1" fill="#000" opacity="0.09"/>
<rect x="366.68" y="569.29" width="1" height="1" fill="#000" opacity="0.11"/>
<rect x="366.59" y="565.49" width="1" height="1" fill="#000" opacity="0.11"/>
<rect x="358.98" y="571.48" width="1" height="1" fill="#000" opacity="0.19"/>
<rect x="356.53" y="568.31" width="1" height="1" fill="#000" opacity="0.14"/>
<rect x="362.03" y="561.42" width="1" height="1" fill="#000" opacity="0.13"/>
<rect x="358.42" y="559.97" width="1" height="1" fill="#000" opacity="0.12"/>
<rect x="362.43" y="559.29" width="1" height="1" fill="#000" opacity="0.14"/>
<rect x="360.72" y="567.81" width="1" height="1" fill="#000" opacity="0.09"/>
<rect x="366.33" y="568.91" width="1" height="1" fill="#000" opacity="0.19"/>
<rect x="356.36" y="567.65" width="1" height="1" fill="#000" opacity="0.09"/>
<rect x="363.31" y="572.04" width="1" height="1" fill="#000" opacity="0.18"/>
<rect x="356.42" y="566.32" width="1" height="1" fill="#000" opacity="0.12"/>
<rect x="364.52" y="569.61" width="1" height="1" fill="#000" opacity="0.13"/>
<rect x="365.17" y="563.73" width="1" height="1" fill="#000" opacity="0.16"/>
<rect x="367.59" y="562.54" width="1" height="1" fill="#000" opacity="0.14"/>
<rect x="363.27" y="562.19" width="1" height="1" fill="#000" opacity="0.11"/>
<rect x="367.54" y="564.81" width="1" height="1" fill="#000" opacity="0.11"/>
<rect x="359.56" y="569.56" width="1" height="1" fill="#000" opacity="0.17"/>
<rect x="357.10" y="562.70" width="1" height="1" fill="#000" opacity="0.16"/>
<rect x="363.49" y="560.83" width="1" height="1" fill="#000" opacity="0.16"/>
<rect x="364.62" y="571.95" width="1" height="1" fill="#000" opacity="0.19"/>
<rect x="362.38" y="567.87" width="1" height="1" fill="#000" opacity="0.16"/>
<rect x="367.23" y="564.83" width="1" height="1" fill="#000" opacity="0.09"/>
<rect x="356.58" y="564.17" width="1" height="1" fill="#000" opacity="0.13"/>
<rect x="361.79" y="568.51" width="1" height="1" fill="#000" opacity="0.09"/>
<rect x="360.46" y="563.98" width="1" height="1" fill="#000" opacity="0.19"/>
<rect x="357.26" y="569.08" width="1" height="1" fill="#000" opacity="0.19"/>
<rect x="356.47" y="565.21" width="1" height="1" fill="#000" opacity="0.13"/>
<rect x="363.42" y="562.05" width="1" height="1" fill="#000" opacity="0.15"/>
<rect x="356.73" y="564.62" width="1" height="1" fill="#000" opacity="0.17"/>
<rect x="422.02" y="567.97" width="1" height="1" fill="#000" opacity="0.13"/>
<rect x="420.60" y="566.21" width="1" height="1" fill="#000" opacity="0.20"/>
<rect x="421.62" y="564.53" width="1" height="1" fill="#000" opacity="0.13"/>
<rect x="418.75" y="566.26" width="1" height="1" fill="#000" opacity="0.21"/>
<rect x="416.67" y="569.12" width="1" height="1" fill="#000" opacity="0.13"/>
<rect x="418.05" y="569.05" width="1" height="1" fill="#000" opacity="0.15"/>
<rect x="415.68" y="573.08" width="1" height="1" fill="#000" opacity="0.12"/>
<rect x="420.53" y="570.09" width="1" height="1" fill="#000" opacity="0.21"/>
<rect x="416.62" y="565.12" width="1" height="1" fill="#000" opacity="0.21"/>
<rect x="418.69" y="566.66" width="1" height="1" fill="#000" opacity="0.13"/>
<rect x="412.32" y="563.04" width="1" height="1" fill="#000" opacity="0.16"/>
<rect x="417.06" y="569.28" width="1" height="1" fill="#000" opacity="0.14"/>
<rect x="421.93" y="562.24" width="1" height="1" fill="#000" opacity="0.16"/>
<rect x="418.44" y="561.36" width="1" height="1" fill="#000" opacity="0.15"/>
<rect x="411.40" y="570.31" width="1" height="1" fill="#000" opacity="0.16"/>
<rect x="420.95" y="564.71" width="1" height="1" fill="#000" opacity="0.14"/>
<rect x="417.08" y="568.79" width="1" height="1" fill="#000" opacity="0.22"/>
<rect x="418.19" y="559.76" width="1" height="1" fill="#000" opacity="0.17"/>
<rect x="416.65" y="566.88" width="1" height="1" fill="#000" opacity="0.21"/>
<rect x="413.53" y="567.25" width="1" height="1" fill="#000" opacity="0.16"/>
<rect x="418.02" y="568.58" width="1" height="1" fill="#000" opacity="0.10"/>
<rect x="421.50" y="562.42" width="1" height="1" fill="#000" opacity="0.17"/>
<rect x="419.95" y="565.93" width="1" height="1" fill="#000" opacity="0.09"/>
<rect x="414.13" y="564.72" width="1" height="1" fill="#000" opacity="0.19"/>
<rect x="419.95" y="560.50" width="1" height="1" fill="#000" opacity="0.13"/>
<rect x="413.05" y="562.50" width="1" height="1" fill="#000" opacity="0.18"/>
<rect x="421.48" y="569.33" width="1" height="1" fill="#000" opacity="0.20"/>
<rect x="414.69" y="572.39" width="1" height="1" fill="#000" opacity="0.11"/>
<rect x="414.23" y="560.06" width="1" height="1" fill="#000" opacity="0.11"/>
<rect x="412.06" y="564.64" width="1" height="1" fill="#000" opacity="0.21"/>
<rect x="420.16" y="565.15" width="1" height="1" fill="#000" opacity="0.09"/>
<rect x="415.08" y="570.92" width="1" height="1" fill="#000" opacity="0.09"/>
<rect x="418.78" y="567.37" width="1" height="1" fill="#000" opacity="0.14"/>
<rect x="410.39" y="567.86" width="1" height="1" fill="#000" opacity="0.17"/>
<rect x="420.58" y="566.46" width="1" height="1" fill="#000" opacity="0.15"/>
<rect x="416.01" y="568.53" width="1" height="1" fill="#000" opacity="0.20"/>
<rect x="419.68" y="560.83" width="1" height="1" fill="#000" opacity="0.10"/>
<rect x="412.23" y="560.88" width="1" height="1" fill="#000" opacity="0.12"/>
<rect x="414.48" y="570.11" width="1" height="1" fill="#000" opacity="0.09"/>
<rect x="418.10" y="570.36" width="1" height="1" fill="#000" opacity="0.13"/>
<text x="454.70" y="423.80" font-size="12.95" font-weight="bold" text-anchor="middle" fill="#000" transform="rotate(-90 454.70 423.80)">% of cells with nuclear NF-kB</text>
<line x1="484.30" y1="315.20" x2="484.30" y2="533.80" stroke="#000" stroke-width="2"/>
<line x1="477.30" y1="532.70" x2="485.00" y2="532.70" stroke="#000" stroke-width="2"/>
<text x="476.60" y="536.20" font-size="9.5" font-weight="bold" text-anchor="end" fill="#000">0</text>
<line x1="477.30" y1="460.50" x2="485.00" y2="460.50" stroke="#000" stroke-width="2"/>
<text x="476.60" y="464.00" font-size="9.5" font-weight="bold" text-anchor="end" fill="#000">10</text>
<line x1="477.30" y1="388.30" x2="485.00" y2="388.30" stroke="#000" stroke-width="2"/>
<text x="476.60" y="391.80" font-size="9.5" font-weight="bold" text-anchor="end" fill="#000">20</text>
<line x1="477.30" y1="316.10" x2="485.00" y2="316.10" stroke="#000" stroke-width="2"/>
<text x="476.60" y="319.60" font-size="9.5" font-weight="bold" text-anchor="end" fill="#000">30</text>
<line x1="480.20" y1="496.60" x2="485.00" y2="496.60" stroke="#000" stroke-width="2"/>
<line x1="480.20" y1="424.40" x2="485.00" y2="424.40" stroke="#000" stroke-width="2"/>
<line x1="480.20" y1="352.20" x2="485.00" y2="352.20" stroke="#000" stroke-width="2"/>
<line x1="505.50" y1="458.60" x2="505.50" y2="478.00" stroke="#000" stroke-width="1.6"/>
<line x1="500.00" y1="458.60" x2="511.00" y2="458.60" stroke="#000" stroke-width="1.6"/>
<rect x="495.10" y="477.90" width="20.80" height="54.80" fill="#000000" stroke="#000" stroke-width="1.8"/>
<line x1="536.74" y1="371.40" x2="536.74" y2="425.00" stroke="#000" stroke-width="1.6"/>
<line x1="531.24" y1="371.40" x2="542.24" y2="371.40" stroke="#000" stroke-width="1.6"/>
<rect x="526.34" y="424.90" width="20.80" height="107.80" fill="#a0a0a7" stroke="#000" stroke-width="1.8"/>
<line x1="567.98" y1="442.10" x2="567.98" y2="475.30" stroke="#000" stroke-width="1.6"/>
<line x1="562.48" y1="442.10" x2="573.48" y2="442.10" stroke="#000" stroke-width="1.6"/>
<rect x="557.58" y="475.20" width="20.80" height="57.50" fill="#808080" stroke="#000" stroke-width="1.8"/>
<line x1="599.22" y1="454.10" x2="599.22" y2="485.60" stroke="#000" stroke-width="1.6"/>
<line x1="593.72" y1="454.10" x2="604.72" y2="454.10" stroke="#000" stroke-width="1.6"/>
<rect x="588.82" y="485.50" width="20.80" height="47.20" fill="#d5d5d5" stroke="#000" stroke-width="1.8"/>
<line x1="630.46" y1="449.90" x2="630.46" y2="469.10" stroke="#000" stroke-width="1.6"/>
<line x1="624.96" y1="449.90" x2="635.96" y2="449.90" stroke="#000" stroke-width="1.6"/>
<rect x="620.06" y="469.00" width="20.80" height="63.70" fill="#606060" stroke="#000" stroke-width="1.8"/>
<line x1="661.70" y1="354.70" x2="661.70" y2="373.80" stroke="#000" stroke-width="1.6"/>
<line x1="656.20" y1="354.70" x2="667.20" y2="354.70" stroke="#000" stroke-width="1.6"/>
<rect x="651.30" y="373.70" width="20.80" height="159.00" fill="#a0a0a7" stroke="#000" stroke-width="1.8"/>
<line x1="477.10" y1="532.70" x2="682.30" y2="532.70" stroke="#000" stroke-width="2.2"/>
<line x1="505.50" y1="532.70" x2="505.50" y2="539.60" stroke="#000" stroke-width="2"/>
<line x1="536.74" y1="532.70" x2="536.74" y2="539.60" stroke="#000" stroke-width="2"/>
<line x1="567.98" y1="532.70" x2="567.98" y2="539.60" stroke="#000" stroke-width="2"/>
<line x1="599.22" y1="532.70" x2="599.22" y2="539.60" stroke="#000" stroke-width="2"/>
<line x1="630.46" y1="532.70" x2="630.46" y2="539.60" stroke="#000" stroke-width="2"/>
<line x1="661.70" y1="532.70" x2="661.70" y2="539.60" stroke="#000" stroke-width="2"/>
<text x="508.10" y="547.60" font-size="11" font-weight="bold" text-anchor="end" fill="#000" transform="rotate(-45 508.10 547.60)">0</text>
<text x="539.34" y="547.60" font-size="11" font-weight="bold" text-anchor="end" fill="#000" transform="rotate(-45 539.34 547.60)">10</text>
<text x="570.58" y="547.60" font-size="11" font-weight="bold" text-anchor="end" fill="#000" transform="rotate(-45 570.58 547.60)">20</text>
<text x="601.82" y="547.60" font-size="11" font-weight="bold" text-anchor="end" fill="#000" transform="rotate(-45 601.82 547.60)">30</text>
<text x="633.06" y="547.60" font-size="11" font-weight="bold" text-anchor="end" fill="#000" transform="rotate(-45 633.06 547.60)">SCR</text>
<text x="664.30" y="547.60" font-size="11" font-weight="bold" text-anchor="end" fill="#000" transform="rotate(-45 664.30 547.60)">miR-342</text>
<polyline points="630.50,434.40 630.50,320.90 662.10,320.90 662.10,338.10" fill="none" stroke="#000" stroke-width="1.3"/>
<text x="645.80" y="321.80" font-size="14.5" text-anchor="middle" fill="#000">*</text>
<line x1="494.20" y1="572.50" x2="608.30" y2="572.50" stroke="#000" stroke-width="1.5"/>
<line x1="494.20" y1="568.60" x2="494.20" y2="576.40" stroke="#000" stroke-width="1.5"/>
<line x1="608.30" y1="568.60" x2="608.30" y2="576.40" stroke="#000" stroke-width="1.5"/>
<text x="523.1" y="587.1" font-size="11" font-weight="bold">TNF-<tspan font-family="Liberation Serif" font-weight="normal" font-size="12">α</tspan> (min)</text>
</svg></body></html>
